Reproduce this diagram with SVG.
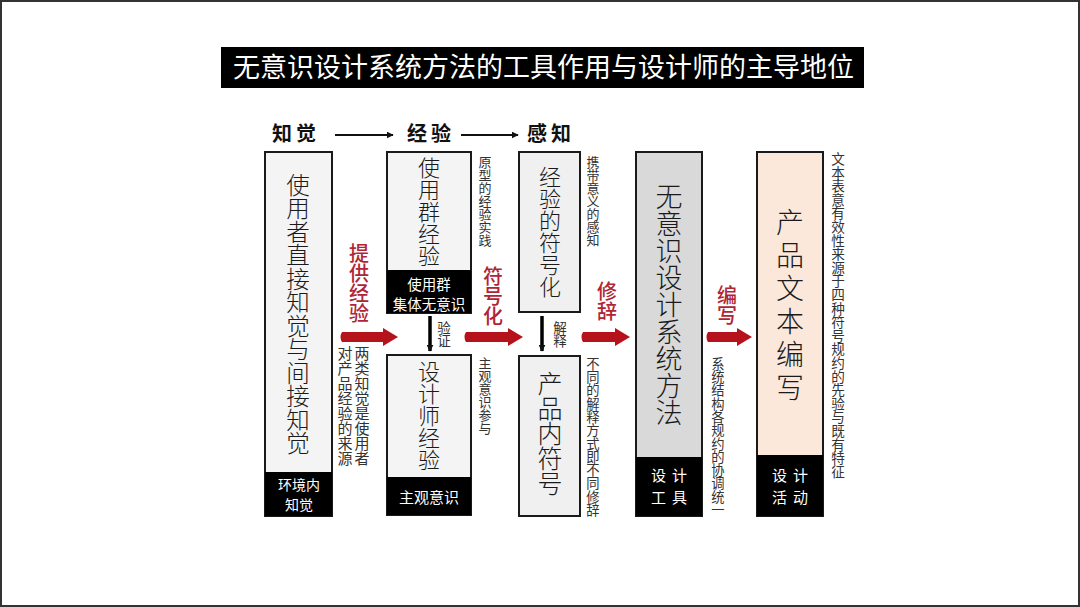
<svg xmlns="http://www.w3.org/2000/svg" width="1080" height="607" viewBox="0 0 1080 607">
<style>
text{font-family:"Noto Sans CJK SC","Noto Sans",sans-serif;}
.v{writing-mode:vertical-rl;text-anchor:start;}
.box{stroke:#1a1a1a;stroke-width:2;}
.foot{fill:#000;}
.ft{fill:#fff;text-anchor:middle;}
.ft2{fill:#fff;text-anchor:middle;font-size:15px;letter-spacing:6px;}
.main{fill:#1a1a1a;font-weight:300;}
.side{fill:#333;}
.red{fill:#b02536;font-size:20px;font-weight:500;}
.hd{fill:#111;font-size:20px;font-weight:700;letter-spacing:4px;}
.ra{fill:#b5121b;}
</style>
<defs>
<marker id="ah" viewBox="0 0 10 10" refX="9" refY="5" markerWidth="7" markerHeight="7" markerUnits="userSpaceOnUse" orient="auto">
<path d="M0,0 L10,5 L0,10 z" fill="#111"/>
</marker>
</defs>
<rect x="0" y="0" width="1080" height="607" fill="#fff"/>
<rect x="1" y="1" width="1078" height="605" fill="none" stroke="#333" stroke-width="2"/>

<g id="title">
<rect x="221" y="47" width="643" height="41" fill="#000"/>
<text x="233" y="77" fill="#fff" font-size="27" textLength="621" lengthAdjust="spacing">无意识设计系统方法的工具作用与设计师的主导地位</text>
</g>

<g id="headers">
<text class="hd" x="272" y="141">知觉</text>
<text class="hd" x="407" y="141">经验</text>
<text class="hd" x="527" y="141">感知</text>
</g>

<g id="connectors">
<line x1="335" y1="135" x2="393" y2="135" stroke="#111" stroke-width="2" marker-end="url(#ah)"/>
<line x1="461" y1="135" x2="518" y2="135" stroke="#111" stroke-width="2" marker-end="url(#ah)"/>
<path class="ra" d="M342,332 L383,332 L383,328 L398,337 L383,346 L383,342 L342,342 Q339,337 342,332 z"/>
<path class="ra" d="M466,332 L508,332 L508,328 L523,337 L508,346 L508,342 L466,342 Q463,337 466,332 z"/>
<path class="ra" d="M583,332 L615,332 L615,328 L630,337 L615,346 L615,342 L583,342 Q580,337 583,332 z"/>
<path class="ra" d="M708,332 L737,332 L737,328 L752,337 L737,346 L737,342 L708,342 Q705,337 708,332 z"/>
<line x1="430" y1="316" x2="430" y2="351" stroke="#000" stroke-width="3.5" marker-end="url(#ah)"/>
<line x1="542" y1="316" x2="542" y2="351" stroke="#000" stroke-width="3.5" marker-end="url(#ah)"/>
<text class="red v" x="359" y="243">提供经验</text>
<text class="red v" x="493" y="266">符号化</text>
<text class="red v" x="607" y="281">修辞</text>
<text class="red v" x="727" y="285">编写</text>
<text class="side v" x="444" y="321" style="font-size:13.5px">验证</text>
<text class="side v" x="560" y="321" style="font-size:13.5px">解释</text>
</g>

<g id="node1">
<rect class="box" x="265" y="152" width="67" height="364" fill="#f4f4f4"/>
<rect class="foot" x="265" y="472" width="67" height="44"/>
<text class="main v" x="298" y="173" style="font-size:23.5px">使用者直接知觉与间接知觉</text>
<text class="ft" x="299" y="490" style="font-size:14px">环境内</text>
<text class="ft" x="299" y="510" style="font-size:14px">知觉</text>
<text class="side v" x="362" y="346" style="font-size:15px">两类知觉是使用者</text>
<text class="side v" x="345" y="346" style="font-size:15px">对产品经验的来源</text>
</g>

<g id="node2">
<rect class="box" x="387" y="152" width="84" height="161" fill="#f4f4f4"/>
<rect class="foot" x="387" y="270" width="84" height="43"/>
<text class="main v" x="429" y="157" style="font-size:22px">使用群经验</text>
<text class="ft" x="429" y="290" style="font-size:14.5px">使用群</text>
<text class="ft" x="429" y="310" style="font-size:14.5px">集体无意识</text>
<text class="side v" x="485" y="156" style="font-size:13px">原型的经验实践</text>
</g>

<g id="node3">
<rect class="box" x="387" y="355" width="84" height="160" fill="#f4f4f4"/>
<rect class="foot" x="387" y="477" width="84" height="38"/>
<text class="main v" x="429" y="361" style="font-size:22px">设计师经验</text>
<text class="ft" x="429" y="503" style="font-size:15px">主观意识</text>
<text class="side v" x="485" y="357" style="font-size:13px">主观意识参与</text>
</g>

<g id="node4">
<rect class="box" x="519" y="152" width="61" height="160" fill="#f0f0f0"/>
<text class="main v" x="550" y="166" style="font-size:22px">经验的符号化</text>
<text class="side v" x="593" y="156" style="font-size:13px">携带意义的感知</text>
</g>

<g id="node5">
<rect class="box" x="519" y="356" width="61" height="160" fill="#f0f0f0"/>
<text class="main v" x="550" y="371" style="font-size:25px">产品内符号</text>
<text class="side v" x="593" y="357" style="font-size:13.3px">不同的解释方式即不同修辞</text>
</g>

<g id="node6">
<rect class="box" x="636" y="152" width="66" height="364" fill="#d9d9d9"/>
<rect class="foot" x="636" y="457" width="66" height="59"/>
<text class="main v" x="669" y="183" style="font-size:27px">无意识设计系统方法</text>
<text class="ft2" x="672" y="481">设计</text>
<text class="ft2" x="672" y="503">工具</text>
<text class="side v" x="718" y="357" style="font-size:13.3px">系统结构各规约的协调统一</text>
</g>

<g id="node7">
<rect class="box" x="757" y="152" width="66" height="364" fill="#fbe8da"/>
<rect class="foot" x="757" y="455" width="66" height="61"/>
<text class="main v" x="790" y="208" style="font-size:28px;letter-spacing:5px">产品文本编写</text>
<text class="ft2" x="793" y="481">设计</text>
<text class="ft2" x="793" y="503">活动</text>
<text class="side v" x="838" y="152" style="font-size:13.6px">文本表意有效性来源于四种符号规约的先验与既有特征</text>
</g>
</svg>
